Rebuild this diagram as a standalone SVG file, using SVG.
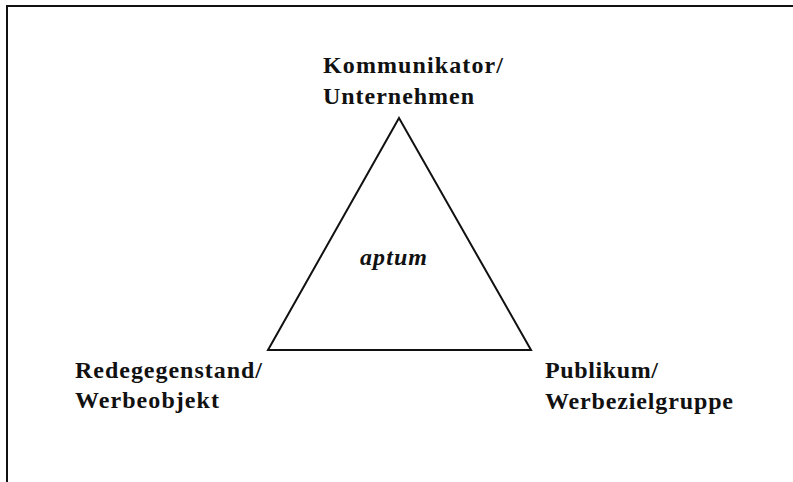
<svg xmlns="http://www.w3.org/2000/svg" width="793" height="482" viewBox="0 0 793 482">
<style>
.lbl{font-family:"Liberation Serif","Times New Roman",serif;font-weight:bold;font-size:24px;fill:#111}
.it{font-style:italic}
.ln{fill:none;stroke:#111;stroke-width:2}
</style>
<rect width="793" height="482" fill="#fff"/>
<g id="frame"><path class="ln" d="M7 482 V6 H793" stroke-width="2.5"/></g>
<g id="connectors"><polygon class="ln" points="399,118 268,350 531,350"/></g>
<g id="kommunikator"><text class="lbl" x="323" y="73" textLength="180" lengthAdjust="spacing">Kommunikator/</text><text class="lbl" x="323" y="104" textLength="151" lengthAdjust="spacing">Unternehmen</text></g>
<g id="aptum"><text class="lbl it" x="360" y="265" textLength="67" lengthAdjust="spacing">aptum</text></g>
<g id="redegegenstand"><text class="lbl" x="75" y="378" textLength="187" lengthAdjust="spacing">Redegegenstand/</text><text class="lbl" x="75" y="408" textLength="144" lengthAdjust="spacing">Werbeobjekt</text></g>
<g id="publikum"><text class="lbl" x="545" y="378" textLength="113" lengthAdjust="spacing">Publikum/</text><text class="lbl" x="545" y="409" textLength="188" lengthAdjust="spacing">Werbezielgruppe</text></g>
</svg>
